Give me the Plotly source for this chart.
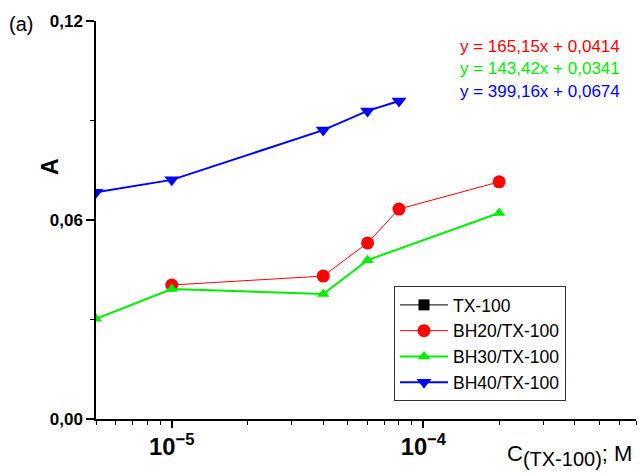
import plotly.graph_objects as go

# Data
x_bh40 = [5e-6, 1e-5, 4e-5, 6e-5, 8e-5]
y_bh40 = [0.0684, 0.0721, 0.0871, 0.0929, 0.0959]

x_bh20 = [1e-5, 4e-5, 6e-5, 8e-5, 2e-4]
y_bh20 = [0.0404, 0.0431, 0.0531, 0.0633, 0.0715]

x_bh30 = [5e-6, 1e-5, 4e-5, 6e-5, 2e-4]
y_bh30 = [0.0302, 0.0392, 0.0377, 0.0479, 0.0621]

x_tx = [None]
y_tx = [None]

equations = ["y = 165,15x + 0,0414", "y = 143,42x + 0,0341", "y = 399,16x + 0,0674"]
eq_colors = ["#ff0000", "#00ee00", "#0000ff"]

FONT = "Arial, Liberation Sans, sans-serif"

fig = go.Figure()
fig.add_trace(go.Scatter(x=x_tx, y=y_tx, name="TX-100", mode="lines+markers",
                         line=dict(color="black", width=1),
                         marker=dict(symbol="square", size=11, color="black")))
fig.add_trace(go.Scatter(x=x_bh20, y=y_bh20, name="BH20/TX-100", mode="lines+markers",
                         line=dict(color="#ff0000", width=1),
                         marker=dict(symbol="circle", size=13, color="#ff0000")))
fig.add_trace(go.Scatter(x=x_bh30, y=y_bh30, name="BH30/TX-100", mode="lines+markers",
                         line=dict(color="#00ee00", width=2),
                         marker=dict(symbol="triangle-up", size=11, color="#00ee00")))
fig.add_trace(go.Scatter(x=x_bh40, y=y_bh40, name="BH40/TX-100", mode="lines+markers",
                         line=dict(color="#0000ff", width=2),
                         marker=dict(symbol="triangle-down", size=13, color="#0000ff")))

fig.update_layout(
    width=640, height=475,
    margin=dict(l=96, r=4, t=21, b=56),
    paper_bgcolor="white", plot_bgcolor="white",
    separators=", ",
    font=dict(family=FONT, color="black"),
    showlegend=True,
    legend=dict(x=(394 - 96) / 540, y=(419 - 286) / 398, xanchor="left", yanchor="top",
                bgcolor="white", bordercolor="#333", borderwidth=1,
                font=dict(size=17.5, family=FONT), tracegroupgap=0, itemwidth=48),
    xaxis=dict(type="log", range=[-5.30103, -3.155],
               showline=True, linecolor="black", linewidth=1.5,
               showgrid=False, zeroline=False,
               ticks="outside", ticklen=7, tickwidth=1.5, tickcolor="black",
               dtick=1, exponentformat="power",
               tickfont=dict(size=19, family=FONT, weight="bold"),
               minor=dict(ticks="outside", ticklen=4, tickwidth=1, tickcolor="black",
                          dtick="D1", showgrid=False)),
    yaxis=dict(range=[0, 0.12],
               showline=True, linecolor="black", linewidth=1.5,
               showgrid=False, zeroline=False,
               ticks="outside", ticklen=8, tickwidth=1.5, tickcolor="black",
               tickvals=[0, 0.06, 0.12], tickformat=".2f",
               tickfont=dict(size=17, family=FONT, weight="bold"),
               minor=dict(ticks="outside", ticklen=4, tickwidth=1, tickcolor="black",
                          dtick=0.03, showgrid=False)),
)

for i, (t, c) in enumerate(zip(equations, eq_colors)):
    fig.add_annotation(text=t, xref="paper", yref="paper", x=(622 - 96) / 540,
                       y=(419 - 47 - 22 * i) / 398, xanchor="right", yanchor="middle",
                       showarrow=False, font=dict(size=17, color=c, family=FONT))

fig.add_annotation(text="(a)", xref="paper", yref="paper", x=(7 - 96) / 540,
                   y=(419 - 24) / 398, xanchor="left", yanchor="middle",
                   showarrow=False, font=dict(size=20, family=FONT))

fig.add_annotation(text="<b>A</b>", xref="paper", yref="paper", x=(50 - 96) / 540,
                   y=(419 - 167) / 398, xanchor="center", yanchor="middle", textangle=-90,
                   showarrow=False, font=dict(size=23, family=FONT))

fig.add_annotation(text="C<sub><span style='font-size:20px'>(TX-100)</span></sub>; M",
                   xref="paper", yref="paper", x=(634 - 96) / 540,
                   y=(419 - 456) / 398, xanchor="right", yanchor="middle",
                   showarrow=False, font=dict(size=22, family=FONT))

fig.write_html("out.html", config={"displayModeBar": False},
               post_script="document.body.style.margin='0';")
